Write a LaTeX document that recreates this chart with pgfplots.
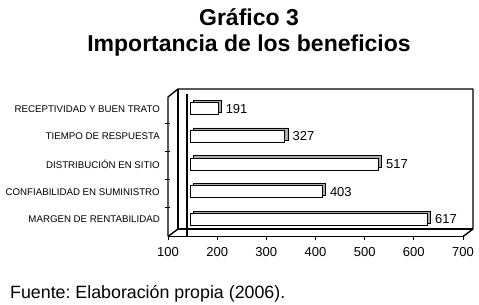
\documentclass[border=0pt]{standalone}
\usepackage{pgfplots}
\usepackage{pgfplotstable}
\pgfplotsset{compat=1.18}
\usepackage{fontspec}
\setmainfont{Liberation Sans}
\frenchspacing
\pgfplotstableread{
y value
0 617
1 403
2 517
3 327
4 191
}\datatable
\begin{document}
\begin{tikzpicture}
\begin{scope}[x=1pt,y=-1pt,shift={(-168pt,236.5pt)}]
\useasboundingbox (0,0) rectangle (479,305);
\end{scope}
% front plane axis (x scale, ticks)
\begin{axis}[
  at={(0pt,0pt)}, anchor=south west,
  scale only axis, width=295pt, height=139.5pt,
  xmin=100, xmax=700, ymin=0, ymax=1,
  axis x line*=bottom, axis y line=none,
  x axis line style={-, line width=1.5pt},
  xtick={100,200,...,700},
  xtick align=outside, major tick length=3pt,
  tick style={black, line width=0.8pt},
  /pgf/number format/assume math mode=true,
  xticklabel style={font=\fontsize{13}{15}\selectfont, yshift=-4pt},
]
\addplot[draw=none, forget plot] coordinates {(100,0)};
\end{axis}
% bars
\begin{axis}[
  at={(22pt,0pt)}, anchor=south west,
  scale only axis, width=278.3pt, height=139.5pt,
  xmin=134, xmax=700, ymin=-0.614, ymax=4.426,
  axis x line=none, axis y line*=left,
  y axis line style={draw=none},
  ytick={0,1,2,3,4},
  ytick style={draw=none},
  yticklabels={MARGEN DE RENTABILIDAD, CONFIABILIDAD EN SUMINISTRO, DISTRIBUCIÓN EN SITIO, TIEMPO DE RESPUESTA, RECEPTIVIDAD Y BUEN TRATO},
  yticklabel style={font=\fontsize{9.7}{11}\selectfont, anchor=east, inner sep=0pt, xshift=-30pt},
  /pgf/number format/assume math mode=true,
]
\addplot[xbar, bar shift=0pt, bar width=12pt, fill=gray!65, draw=black, line width=0.6pt, xshift=3pt, yshift=2.5pt, forget plot] table[x=value, y=y] {\datatable};
\addplot[xbar, bar shift=0pt, bar width=12pt, fill=white, draw=black, line width=0.8pt,
  nodes near coords, nodes near coords align={horizontal},
  every node near coord/.append style={font=\fontsize{13}{15}\selectfont, black, xshift=4pt}] table[x=value, y=y] {\datatable};
\end{axis}
\begin{scope}[x=1pt,y=-1pt,shift={(-168pt,236.5pt)}]
\draw[line width=1.4pt, line join=round] (168,236.5) -- (168,97) -- (178,89) -- (473,89) -- (473,229) -- (463,236.5);
\draw[line width=1.2pt] (178,89) -- (178,229) -- (473,229);
\draw[line width=1.4pt] (168,236.5) -- (178,229);
\draw[line width=1.6pt] (187,94) -- (187,237);
\foreach \yy in {123,151,179,207} \draw[line width=0.8pt] (165,\yy) -- (170,\yy);
\node[anchor=base, font=\bfseries\fontsize{23}{28}\selectfont, inner sep=0pt] at (249,26) {Gráfico 3};
\node[anchor=base, font=\bfseries\fontsize{23}{28}\selectfont, inner sep=0pt] at (249,52) {Importancia de los beneficios};
\node[anchor=base west, font=\fontsize{17.8}{20}\selectfont, inner sep=0pt] at (10,298.5) {Fuente: Elaboración propia (2006).};
\end{scope}
\end{tikzpicture}
\end{document}
